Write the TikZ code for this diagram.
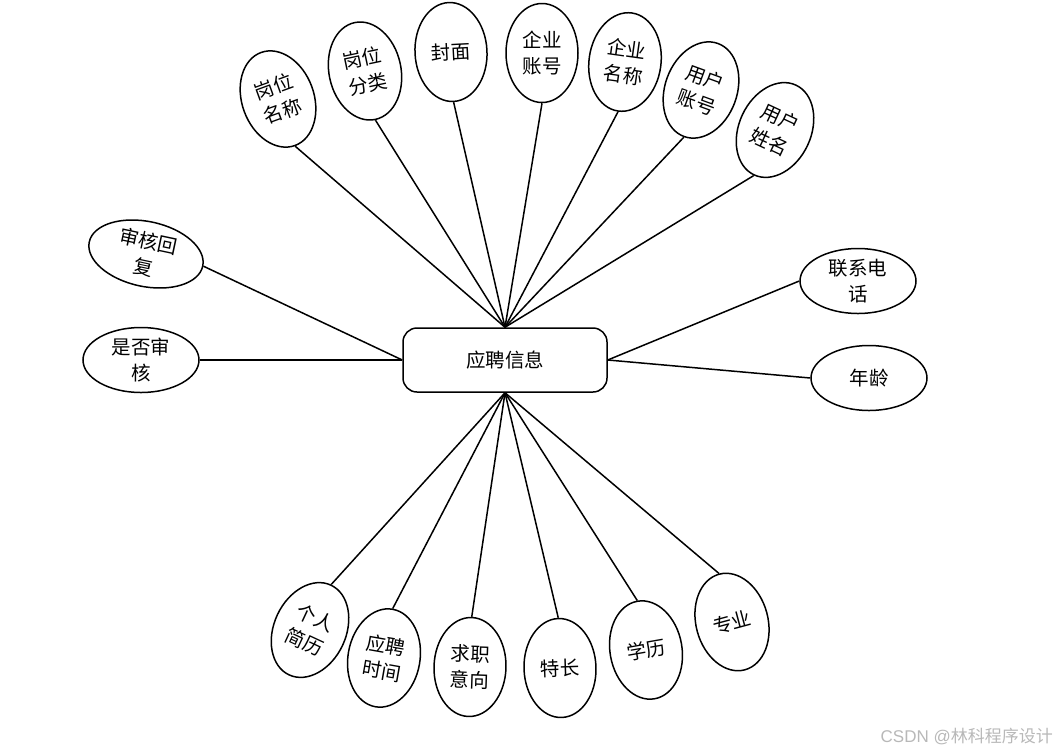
\documentclass[tikz,border=0pt]{standalone}
\usepackage{fontspec}
\setmainfont{Noto Sans CJK SC}
\newfontfamily\wmfont{Liberation Sans}
\usetikzlibrary{shapes.geometric}
\begin{document}
\begin{tikzpicture}[x=1pt,y=-1pt,
  attr/.style={draw, ellipse, line width=1.5pt, inner sep=0pt, align=center,
    minimum width=72pt, minimum height=99pt, font=\fontsize{19.5}{26}\selectfont},
  wide/.style={minimum width=116pt, minimum height=65pt},
  mainbox/.style={draw, rounded corners=14pt, line width=1.5pt, minimum width=204pt,
    minimum height=64pt, font=\fontsize{19.5}{24}\selectfont},
  conn/.style={line width=1.5pt}]
\path[use as bounding box] (0,0) rectangle (1057,753);

\node[mainbox] (c) at (505,360) {应聘信息};

\node[attr, rotate=20] (a1) at (278,99) {岗位\\名称};
\node[attr, rotate=12] (a2) at (365,71) {岗位\\分类};
\node[attr, rotate=3] (a3) at (451,52) {封面};
\node[attr] (a4) at (542,53) {企业\\账号};
\node[attr, rotate=-8] (a5) at (625,62) {企业\\名称};
\node[attr, rotate=-20] (a6) at (701,90) {用户\\账号};
\node[attr, rotate=-25] (a7) at (775,130) {用户\\姓名};

\node[attr, wide, rotate=-12] (l1) at (146,254) {审核回\\复};
\node[attr, wide] (l2) at (141,360) {是否审\\核};
\node[attr, wide] (r1) at (858,281) {联系电\\话};
\node[attr, wide] (r2) at (869,378) {年龄};

\node[attr, rotate=-25] (b1) at (310,630) {个人\\简历};
\node[attr, rotate=-10] (b2) at (384,658) {应聘\\时间};
\node[attr, rotate=-2] (b3) at (470,667) {求职\\意向};
\node[attr, rotate=2] (b4) at (560,668) {特长};
\node[attr, rotate=10] (b5) at (646,650) {学历};
\node[attr, rotate=15] (b6) at (732,622) {专业};

\foreach \n in {a1,a2,a3,a4,a5,a6,a7}{\draw[conn] (c.north) -- (\n.south);}
\foreach \n in {b1,b2,b3,b4,b5,b6}{\draw[conn] (c.south) -- (\n.north);}
\foreach \n in {l1,l2}{\draw[conn] (c.west) -- (\n.east);}
\foreach \n in {r1,r2}{\draw[conn] (c.east) -- (\n.west);}

\node[anchor=east, text=black!28, inner sep=0pt, font=\fontsize{17}{17}\selectfont] (wm) at (1053,736) {{\wmfont CSDN @}林科程序设计};
\end{tikzpicture}
\end{document}
